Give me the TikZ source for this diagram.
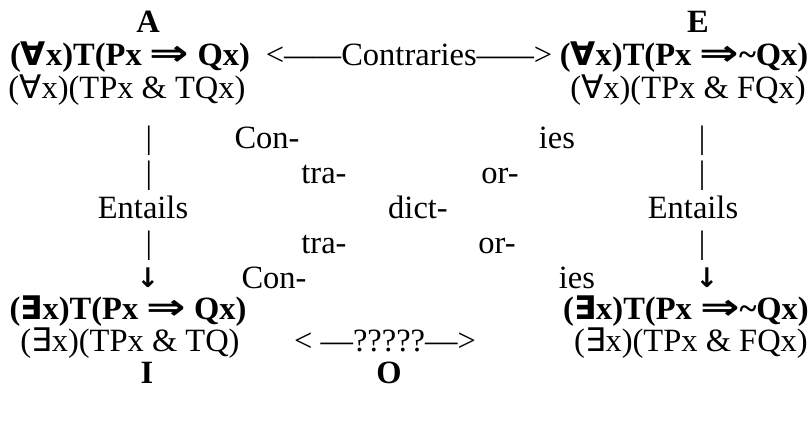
\documentclass[tikz,border=0pt]{standalone}
\usepackage{fontspec}
\setmainfont{Liberation Serif}
\newfontfamily\symfont{DejaVu Sans}
\newcommand{\fa}{{\symfont ∀}}
\newcommand{\ex}{{\symfont ∃}}
\newcommand{\imp}{\scalebox{1.45}[1.1]{\symfont ⇒}}
\newcommand{\dsh}{\scalebox{0.88}[1]{——}}
\tikzset{
  txt/.style={anchor=base, inner sep=0pt, font=\fontsize{32.5}{34}\selectfont},
  bld/.style={anchor=base, inner sep=0pt, font=\fontsize{32.5}{34}\selectfont\bfseries},
  arr/.style={anchor=base, inner sep=0pt, text height=0.7em, text depth=0pt,
    font=\fontsize{27}{29}\selectfont\symfont\bfseries},
}
\begin{document}
\begin{tikzpicture}[x=1pt,y=-1pt]
\useasboundingbox (0,0) rectangle (811,421);
% row 1
\node[bld] (A) at (148,32) {A};
\node[bld] (E) at (698,32) {E};
% row 2
\node[bld] (Abold) at (130,65) {(\fa x)T(Px \imp\ Qx)};
\node[txt] (contr) at (409,65) {<\dsh Contraries\dsh>};
\node[bld] (Ebold) at (684,65) {(\fa x)T(Px \imp\textasciitilde Qx)};
% row 3
\node[txt] (Areg) at (127,98) {(\fa x)(TPx \& TQx)};
\node[txt] (Ereg) at (688,98) {(\fa x)(TPx \& FQx)};
% row 4
\node[txt] (barL1) at (149,148) {|};
\node[txt] (con1) at (267,148) {Con-};
\node[txt] (ies1) at (557,148) {ies};
\node[txt] (barR1) at (702,148) {|};
% row 5
\node[txt] (barL2) at (149,183) {|};
\node[txt] (tra1) at (324,183) {tra-};
\node[txt] (or1) at (500,183) {or-};
\node[txt] (barR2) at (702,183) {|};
% row 6
\node[txt] (entL) at (143,218) {Entails};
\node[txt] (dict) at (418,218) {dict-};
\node[txt] (entR) at (693,218) {Entails};
% row 7
\node[txt] (barL3) at (149,253) {|};
\node[txt] (tra2) at (324,253) {tra-};
\node[txt] (or2) at (497,253) {or-};
\node[txt] (barR3) at (702,253) {|};
% row 8
\node[arr] (arrL) at (148,287) {↓};
\node[txt] (con2) at (274,288) {Con-};
\node[txt] (ies2) at (577,288) {ies};
\node[arr] (arrR) at (707,287) {↓};
% row 9
\node[bld] (Ibold) at (128,319) {(\ex x)T(Px \imp\ Qx)};
\node[bld] (Obold) at (686,319) {(\ex x)T(Px \imp\textasciitilde Qx)};
% row 10
\node[txt] (Ireg) at (130,351) {(\ex x)(TPx \& TQ)};
\node[txt] (qmark) at (385,351) {< —?????—>};
\node[txt] (Oreg) at (691,351) {(\ex x)(TPx \& FQx)};
% row 11
\node[bld] (I) at (147,383) {I};
\node[bld] (O) at (389,383) {O};
\end{tikzpicture}
\end{document}
